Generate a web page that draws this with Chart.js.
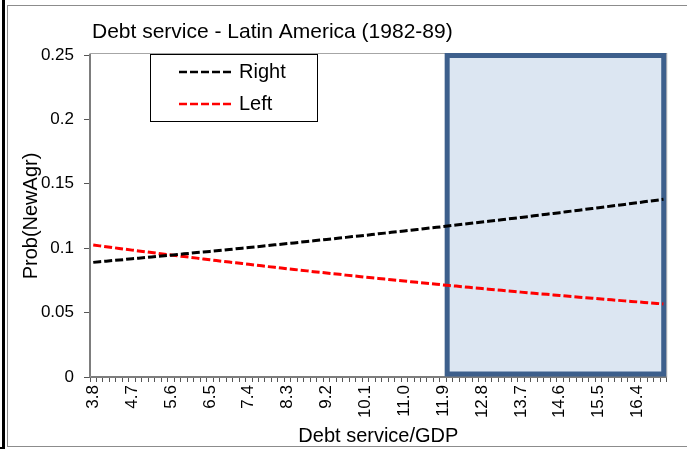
<!DOCTYPE html>
<html>
<head>
<meta charset="utf-8">
<script src="https://cdn.jsdelivr.net/npm/chart.js@4/dist/chart.umd.min.js"></script>
<style>
  html, body { margin: 0; padding: 0; background: #fff; }
  #wrap { position: relative; width: 687px; height: 451px; overflow: hidden; }
  #frame { position: absolute; left: 7px; top: 5px; width: 690px; height: 442px; border: 1px solid #8c8c8c; box-sizing: border-box; }
  #edge { position: absolute; left: 2px; top: 0; width: 3px; height: 449px; background: #000; }
  #edgeBottom { position: absolute; left: 0; top: 447px; width: 5px; height: 2px; background: #000; }
  canvas { position: absolute; left: 0; top: 0; }
</style>
</head>
<body>
<div id="wrap">
  <div id="edge"></div>
  <div id="edgeBottom"></div>
  <div id="frame"></div>
  <canvas id="myChart" width="687" height="451"></canvas>
</div>
<script>
const FONT = '"Liberation Sans", Arial, sans-serif';

// debt service / GDP, one category every 0.15
const debtService = [
  3.8, 3.95, 4.1, 4.25, 4.4, 4.55,
  4.7, 4.85, 5, 5.15, 5.3, 5.45,
  5.6, 5.75, 5.9, 6.05, 6.2, 6.35,
  6.5, 6.65, 6.8, 6.95, 7.1, 7.25,
  7.4, 7.55, 7.7, 7.85, 8, 8.15,
  8.3, 8.45, 8.6, 8.75, 8.9, 9.05,
  9.2, 9.35, 9.5, 9.65, 9.8, 9.95,
  10.1, 10.25, 10.4, 10.55, 10.7, 10.85,
  11, 11.15, 11.3, 11.45, 11.6, 11.75,
  11.9, 12.05, 12.2, 12.35, 12.5, 12.65,
  12.8, 12.95, 13.1, 13.25, 13.4, 13.55,
  13.7, 13.85, 14, 14.15, 14.3, 14.45,
  14.6, 14.75, 14.9, 15.05, 15.2, 15.35,
  15.5, 15.65, 15.8, 15.95, 16.1, 16.25,
  16.4, 16.55, 16.7, 16.85, 17,
];

const xTickLabels = ['3.8', '4.7', '5.6', '6.5', '7.4', '8.3', '9.2', '10.1', '11.0', '11.9', '12.8', '13.7', '14.6', '15.5', '16.4'];
const yTickLabels = ['0', '0.05', '0.1', '0.15', '0.2', '0.25'];

const probRight = [
  0.0890, 0.0895, 0.0899, 0.0904, 0.0908, 0.0913,
  0.0918, 0.0922, 0.0927, 0.0932, 0.0937, 0.0941,
  0.0946, 0.0951, 0.0956, 0.0961, 0.0966, 0.0970,
  0.0975, 0.0980, 0.0985, 0.0990, 0.0995, 0.1000,
  0.1005, 0.1010, 0.1016, 0.1021, 0.1026, 0.1031,
  0.1036, 0.1041, 0.1047, 0.1052, 0.1057, 0.1063,
  0.1068, 0.1073, 0.1079, 0.1084, 0.1090, 0.1095,
  0.1100, 0.1106, 0.1112, 0.1117, 0.1123, 0.1128,
  0.1134, 0.1140, 0.1145, 0.1151, 0.1157, 0.1162,
  0.1168, 0.1174, 0.1180, 0.1186, 0.1191, 0.1197,
  0.1203, 0.1209, 0.1215, 0.1221, 0.1227, 0.1233,
  0.1239, 0.1245, 0.1252, 0.1258, 0.1264, 0.1270,
  0.1276, 0.1283, 0.1289, 0.1295, 0.1302, 0.1308,
  0.1314, 0.1321, 0.1327, 0.1334, 0.1340, 0.1347,
  0.1353, 0.1360, 0.1367, 0.1373, 0.1380,
];

const probLeft = [
  0.1025, 0.1018, 0.1012, 0.1005, 0.0998, 0.0992,
  0.0985, 0.0979, 0.0973, 0.0966, 0.0960, 0.0953,
  0.0947, 0.0941, 0.0935, 0.0929, 0.0923, 0.0916,
  0.0910, 0.0904, 0.0898, 0.0892, 0.0887, 0.0881,
  0.0875, 0.0869, 0.0863, 0.0857, 0.0852, 0.0846,
  0.0840, 0.0835, 0.0829, 0.0824, 0.0818, 0.0813,
  0.0807, 0.0802, 0.0797, 0.0791, 0.0786, 0.0781,
  0.0775, 0.0770, 0.0765, 0.0760, 0.0755, 0.0750,
  0.0745, 0.0740, 0.0735, 0.0730, 0.0725, 0.0720,
  0.0715, 0.0710, 0.0706, 0.0701, 0.0696, 0.0691,
  0.0687, 0.0682, 0.0677, 0.0673, 0.0668, 0.0664,
  0.0659, 0.0655, 0.0650, 0.0646, 0.0642, 0.0637,
  0.0633, 0.0628, 0.0624, 0.0620, 0.0616, 0.0612,
  0.0607, 0.0603, 0.0599, 0.0595, 0.0591, 0.0587,
  0.0583, 0.0579, 0.0575, 0.0571, 0.0567,
];

// shaded zone starts at this debt service value
const zoneStart = 11.9;

// shaded box + plot border, drawn under the lines
const zonePlugin = {
  id: 'zone',
  beforeDatasetsDraw(chart) {
    const { ctx, chartArea, scales } = chart;
    ctx.save();
    ctx.strokeStyle = '#a6a6a6';
    ctx.lineWidth = 1;
    ctx.strokeRect(chartArea.left, chartArea.top - 1.5, chartArea.right - chartArea.left, chartArea.bottom - chartArea.top + 1.5);
    const i = debtService.indexOf(zoneStart);
    const x0 = scales.x.getPixelForValue(i) + 4;
    const x1 = chartArea.right - 3;
    const y0 = scales.y.getPixelForValue(0.25) + 0.5;
    const y1 = scales.y.getPixelForValue(0) - 3;
    ctx.fillStyle = '#dce6f2';
    ctx.fillRect(x0, y0, x1 - x0, y1 - y0);
    ctx.strokeStyle = '#3d5f8c';
    ctx.lineWidth = 5;
    ctx.strokeRect(x0, y0, x1 - x0, y1 - y0);
    ctx.restore();
  },
};

// title and legend box drawn over the plot
const textPlugin = {
  id: 'texts',
  afterDraw(chart) {
    const { ctx, chartArea } = chart;
    ctx.save();
    ctx.fillStyle = '#000';
    ctx.font = '21px ' + FONT;
    ctx.textBaseline = 'middle';
    ctx.textAlign = 'left';
    ctx.fillText('Debt service - Latin America (1982-89)', chartArea.left + 2, 32);

    const bx = chartArea.left + 60;
    const by = chartArea.top - 1;
    ctx.fillStyle = '#fff';
    ctx.fillRect(bx, by, 167, 67);
    ctx.strokeStyle = '#000';
    ctx.lineWidth = 1;
    ctx.strokeRect(bx + 0.5, by + 0.5, 167, 67);
    chart.data.datasets.forEach((ds, k) => {
      const ly = by + 18 + k * 32;
      ctx.strokeStyle = ds.borderColor;
      ctx.lineWidth = 2.5;
      ctx.setLineDash([8, 3]);
      ctx.beginPath();
      ctx.moveTo(bx + 29, ly);
      ctx.lineTo(bx + 84, ly);
      ctx.stroke();
      ctx.setLineDash([]);
      ctx.fillStyle = '#000';
      ctx.font = '20px ' + FONT;
      ctx.fillText(ds.label, bx + 89, ly);
    });
    ctx.restore();
  },
};

const ctx = document.getElementById('myChart').getContext('2d');
const myChart = new Chart(ctx, {
  type: 'line',
  data: {
    labels: debtService,
    datasets: [
      { label: 'Right', data: probRight, borderColor: '#000000', borderDash: [8, 3] },
      { label: 'Left', data: probLeft, borderColor: '#ff0000', borderDash: [8, 3] },
    ].map((el) => ({ ...el, borderWidth: 3, pointRadius: 0, tension: 0, fill: false })),
  },
  options: {
    responsive: false,
    animation: false,
    layout: { padding: { top: 55, right: 20, left: 19, bottom: 0 } },
    plugins: { legend: { display: false }, tooltip: { enabled: false }, title: { display: false } },
    scales: {
      x: {
        type: 'category',
        offset: true,
        grid: { display: true, drawOnChartArea: false, offset: true, tickLength: 5, color: '#555', lineWidth: 1 },
        border: { display: true, color: '#555', width: 2 },
        ticks: {
          autoSkip: false,
          maxRotation: 90,
          minRotation: 90,
          padding: 3,
          color: '#000',
          font: { family: FONT, size: 17 },
          callback: (v, i) => (i % 6 === 0 ? xTickLabels[i / 6] : ''),
        },
        title: { display: true, text: 'Debt service/GDP', color: '#000', font: { family: FONT, size: 20 }, padding: { top: 0, bottom: 3 } },
        afterFit: (scale) => { scale.height = 74; },
      },
      y: {
        min: 0,
        max: 0.25,
        grid: { display: true, drawOnChartArea: false, tickLength: 6, color: '#555', lineWidth: 1 },
        border: { display: true, color: '#555', width: 2 },
        ticks: {
          stepSize: 0.05,
          padding: 10,
          color: '#000',
          font: { family: FONT, size: 17 },
          callback: (v, i) => yTickLabels[i],
        },
        title: { display: true, text: 'Prob(NewAgr)', color: '#000', font: { family: FONT, size: 20 }, padding: { top: 0, bottom: 0 } },
        afterFit: (scale) => { scale.width = 71; },
      },
    },
  },
  plugins: [zonePlugin, textPlugin],
});
</script>
</body>
</html>
